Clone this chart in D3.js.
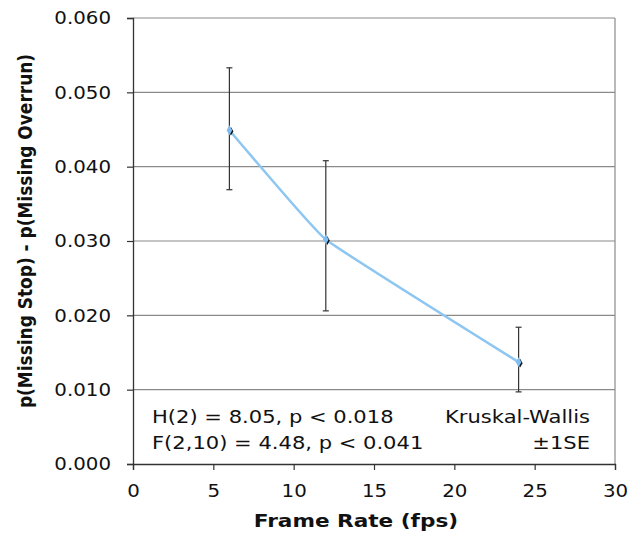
<!DOCTYPE html>
<html><head><meta charset="utf-8">
<script src="https://cdn.jsdelivr.net/npm/d3@7"></script>
<style>body{margin:0;background:#fff}svg{display:block}</style>
</head><body>
<script>
const frameRates = [6, 12, 24];
const meanDiff = [0.0449, 0.0302, 0.0137];
const seUpper = [0.0533, 0.0408, 0.0184];
const seLower = [0.0369, 0.0206, 0.0097];
const yTicks = [0, 0.01, 0.02, 0.03, 0.04, 0.05, 0.06];
const xTicks = [0, 5, 10, 15, 20, 25, 30];
const statLines = ["H(2) = 8.05, p < 0.018", "F(2,10) = 4.48, p < 0.041"];
const noteLines = ["Kruskal-Wallis", "±1SE"];

const W = 630, H = 534;
const m = {l: 133, r: 15, t: 18, b: 70};
const font = "'DejaVu Sans', Verdana, sans-serif";
const svg = d3.select("body").append("svg").attr("width", W).attr("height", H);
const x = d3.scaleLinear().domain([0, 30]).range([m.l, W - m.r]);
const y = d3.scaleLinear().domain([0, 0.06]).range([H - m.b, m.t]);

// gridlines
svg.append("g").selectAll("line").data(yTicks.slice(1)).join("line")
  .attr("x1", x(0)).attr("x2", x(30)).attr("y1", d => y(d)).attr("y2", d => y(d))
  .attr("stroke", "#8a8a8a").attr("stroke-width", 1.2);
svg.append("line").attr("x1", x(30)).attr("x2", x(30)).attr("y1", y(0)).attr("y2", y(0.06))
  .attr("stroke", "#8a8a8a").attr("stroke-width", 1.2);

// axes
const yAxis = svg.append("g").attr("transform", `translate(${x(0)},0)`)
  .call(d3.axisLeft(y).tickValues(yTicks).tickFormat(d3.format(".3f")).tickSize(6).tickPadding(14));
const xAxis = svg.append("g").attr("transform", `translate(0,${y(0)})`)
  .call(d3.axisBottom(x).tickValues(xTicks).tickSize(6).tickPadding(14));
[yAxis, xAxis].forEach(a => {
  a.select(".domain").attr("stroke", "#333").attr("stroke-width", 1.3);
  a.selectAll(".tick line").attr("stroke", "#333").attr("stroke-width", 1.2);
  a.selectAll("text").attr("font-family", font).attr("font-size", 18).attr("fill", "#111")
    .attr("transform", "scale(1.1,1)");
});

// error bars
const data = frameRates.map((f, i) => ({f, m: meanDiff[i], hi: seUpper[i], lo: seLower[i]}));
const eb = svg.append("g").attr("stroke", "#333").attr("stroke-width", 1.2);
eb.selectAll(".v").data(data).join("line")
  .attr("x1", d => x(d.f)).attr("x2", d => x(d.f)).attr("y1", d => y(d.hi)).attr("y2", d => y(d.lo));
eb.selectAll(".t").data(data).join("line")
  .attr("x1", d => x(d.f) - 3).attr("x2", d => x(d.f) + 3).attr("y1", d => y(d.hi)).attr("y2", d => y(d.hi));
eb.selectAll(".b").data(data).join("line")
  .attr("x1", d => x(d.f) - 3).attr("x2", d => x(d.f) + 3).attr("y1", d => y(d.lo)).attr("y2", d => y(d.lo));

// line
svg.append("path").datum(data)
  .attr("d", d3.line().x(d => x(d.f)).y(d => y(d.m)).curve(d3.curveCardinal.tension(0.75)))
  .attr("fill", "none").attr("stroke", "#8ec6f2").attr("stroke-width", 2.5);

// markers
svg.append("g").selectAll("path").data(data).join("path")
  .attr("transform", d => `translate(${x(d.f) + 1.5},${y(d.m) + 1})`)
  .attr("d", d3.symbol(d3.symbolDiamond, 22)).attr("fill", "#111");
svg.append("g").selectAll("path").data(data).join("path")
  .attr("transform", d => `translate(${x(d.f)},${y(d.m)})`)
  .attr("d", d3.symbol(d3.symbolDiamond, 28)).attr("fill", "#7fbdf0");

// annotations
svg.append("g").selectAll("text").data(statLines).join("text")
  .attr("transform", (d, i) => `translate(152,${423 + i * 26}) scale(1.17,1)`)
  .attr("font-family", font).attr("font-size", 18).attr("fill", "#111").text(d => d);
svg.append("g").selectAll("text").data(noteLines).join("text")
  .attr("transform", (d, i) => `translate(590,${423 + i * 26}) scale(1.17,1)`)
  .attr("text-anchor", "end")
  .attr("font-family", font).attr("font-size", 18).attr("fill", "#111").text(d => d);

// axis titles
svg.append("text").attr("transform", "translate(356,527) scale(1.2,1)").attr("text-anchor", "middle")
  .attr("font-family", font).attr("font-weight", "bold").attr("font-size", 18).attr("fill", "#111")
  .text("Frame Rate (fps)");
svg.append("text").attr("transform", "translate(32,231) scale(1.15,1) rotate(-90)")
  .attr("text-anchor", "middle")
  .attr("font-family", font).attr("font-weight", "bold").attr("font-size", 17).attr("fill", "#111")
  .text("p(Missing Stop) - p(Missing Overrun)");
</script>
</body></html>
